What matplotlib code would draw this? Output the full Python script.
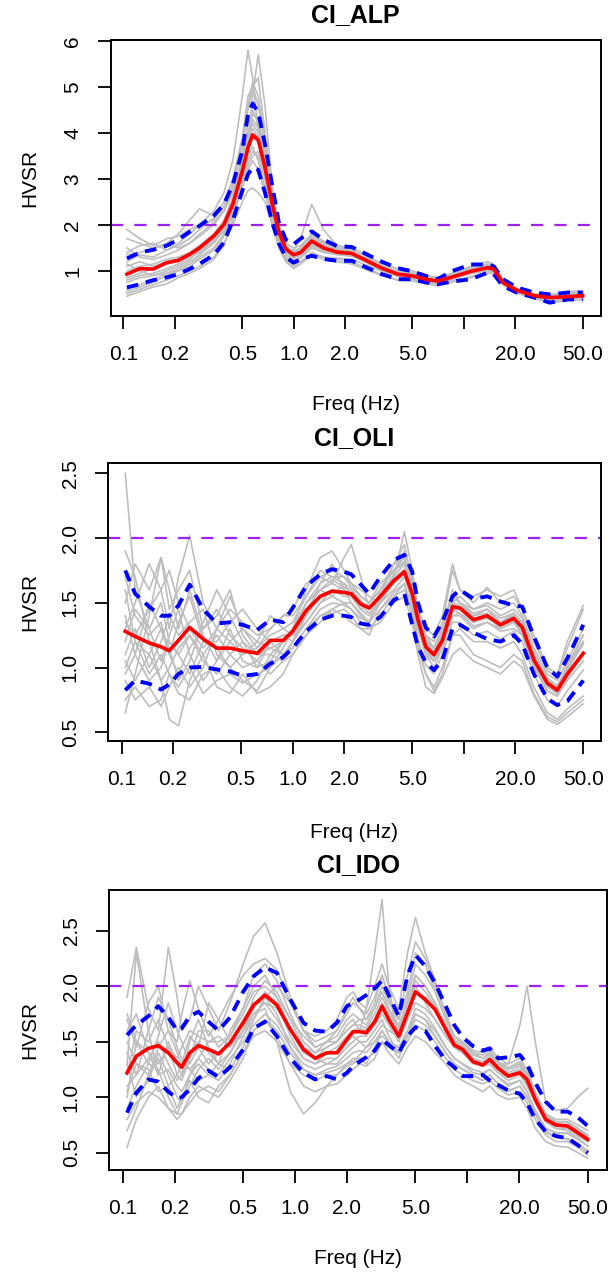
import numpy as np
import matplotlib
matplotlib.use("Agg")
import matplotlib.pyplot as plt

plt.rcParams['font.family'] = ['Liberation Sans', 'DejaVu Sans']

# ---------------- CI_ALP ----------------
f_alp = [0.105, 0.125, 0.15, 0.18, 0.21, 0.245, 0.28, 0.34, 0.39, 0.44,
         0.5, 0.54, 0.575, 0.62, 0.68, 0.75, 0.82, 0.9, 1.0, 1.1,
         1.28, 1.5, 1.8, 2.2, 2.7, 3.3, 4.1, 5.0, 6.0, 7.0,
         8.6, 11, 13.8, 15, 17, 20.5, 26, 32, 41, 50]
mean_alp = [0.93, 1.05, 1.04, 1.18, 1.23, 1.36, 1.5, 1.76, 2.01, 2.45,
            3.17, 3.68, 3.96, 3.85, 3.25, 2.45, 1.85, 1.48, 1.35, 1.40,
            1.65, 1.5, 1.41, 1.38, 1.22, 1.06, 0.93, 0.89, 0.82, 0.78,
            0.87, 0.99, 1.07, 1.04, 0.75, 0.58, 0.46, 0.42, 0.44, 0.46]
up_alp = [1.27, 1.40, 1.46, 1.55, 1.68, 1.85, 1.98, 2.2, 2.45, 2.88,
          3.61, 4.4, 4.64, 4.45, 3.75, 2.85, 2.05, 1.68, 1.58, 1.7,
          1.86, 1.68, 1.54, 1.52, 1.36, 1.20, 1.06, 0.99, 0.89, 0.82,
          1.0, 1.14, 1.14, 1.10, 0.82, 0.64, 0.53, 0.49, 0.53, 0.53]
lo_alp = [0.64, 0.71, 0.80, 0.86, 0.93, 1.04, 1.15, 1.35, 1.62, 2.1,
          2.74, 3.1, 3.25, 3.2, 2.7, 2.05, 1.6, 1.3, 1.18, 1.25,
          1.33, 1.26, 1.22, 1.22, 1.07, 0.93, 0.82, 0.82, 0.75, 0.71,
          0.77, 0.82, 0.96, 0.93, 0.67, 0.53, 0.42, 0.31, 0.38, 0.38]
gray_alp = [
    [1.2, 1.35, 1.3, 1.45, 1.6, 1.8, 2.0, 2.3, 2.7, 3.4, 4.8, 5.8, 5.2, 4.0, 3.0, 2.2, 1.7, 1.45, 1.4, 1.5,
     1.75, 1.6, 1.5, 1.45, 1.3, 1.1, 0.98, 0.95, 0.86, 0.8, 0.9, 1.0, 1.1, 1.05, 0.78, 0.6, 0.48, 0.44, 0.5, 0.5],
    [0.8, 0.9, 0.95, 1.05, 1.15, 1.3, 1.45, 1.7, 2.0, 2.4, 3.0, 3.8, 4.8, 5.7, 4.6, 2.8, 1.9, 1.5, 1.35, 1.4,
     1.6, 1.45, 1.38, 1.35, 1.2, 1.02, 0.9, 0.85, 0.8, 0.76, 0.85, 0.97, 1.1, 1.1, 0.8, 0.6, 0.46, 0.4, 0.45, 0.48],
    [0.5, 0.6, 0.7, 0.8, 0.9, 1.0, 1.1, 1.3, 1.6, 2.0, 2.5, 2.75, 2.8, 2.7, 2.5, 2.0, 1.55, 1.25, 1.1, 1.2,
     1.35, 1.3, 1.25, 1.2, 1.05, 0.92, 0.8, 0.82, 0.74, 0.7, 0.8, 0.85, 0.95, 0.95, 0.7, 0.52, 0.4, 0.3, 0.36, 0.38],
    [1.7, 1.6, 1.5, 1.6, 1.8, 2.1, 2.35, 2.2, 2.3, 2.7, 3.3, 3.8, 4.1, 3.9, 3.2, 2.3, 1.7, 1.4, 1.3, 1.35,
     1.6, 1.45, 1.4, 1.4, 1.25, 1.08, 0.95, 0.92, 0.84, 0.8, 0.88, 1.0, 1.06, 1.02, 0.74, 0.56, 0.44, 0.4, 0.42, 0.44],
    [1.0, 1.1, 1.15, 1.25, 1.3, 1.4, 1.55, 1.8, 2.1, 2.6, 3.5, 4.2, 4.5, 4.2, 3.5, 2.6, 1.9, 1.5, 1.45, 1.7,
     2.45, 1.9, 1.55, 1.45, 1.3, 1.12, 0.98, 0.92, 0.86, 0.82, 0.9, 1.02, 1.15, 1.1, 0.8, 0.62, 0.5, 0.46, 0.55, 0.56],
    [0.45, 0.55, 0.65, 0.72, 0.85, 0.95, 1.05, 1.25, 1.55, 2.1, 2.9, 3.4, 3.6, 3.5, 3.0, 2.3, 1.7, 1.3, 1.15, 1.2,
     1.4, 1.3, 1.28, 1.25, 1.12, 1.0, 0.88, 0.85, 0.78, 0.72, 0.82, 0.94, 1.0, 0.98, 0.72, 0.55, 0.42, 0.35, 0.4, 0.42],
    [1.9, 1.7, 1.55, 1.7, 1.75, 1.9, 2.0, 2.1, 2.4, 2.9, 3.8, 4.6, 5.1, 4.8, 3.9, 2.8, 2.0, 1.6, 1.5, 1.55,
     1.8, 1.65, 1.55, 1.5, 1.35, 1.15, 1.05, 1.0, 0.9, 0.86, 0.95, 1.1, 1.2, 1.15, 0.82, 0.62, 0.5, 0.48, 0.55, 0.55],
    [1.1, 1.2, 1.1, 1.2, 1.25, 1.35, 1.5, 1.75, 2.0, 2.4, 3.1, 3.6, 3.9, 3.8, 3.3, 2.5, 1.8, 1.45, 1.3, 1.35,
     1.55, 1.48, 1.42, 1.35, 1.2, 1.05, 0.92, 0.88, 0.82, 0.78, 0.86, 0.98, 1.05, 1.0, 0.74, 0.58, 0.45, 0.42, 0.44, 0.45],
    [0.75, 0.85, 0.9, 0.95, 1.05, 1.2, 1.35, 1.6, 1.9, 2.3, 3.0, 3.5, 3.7, 3.4, 2.8, 2.1, 1.6, 1.3, 1.2, 1.28,
     1.5, 1.42, 1.35, 1.32, 1.18, 1.0, 0.9, 0.88, 0.8, 0.75, 0.84, 0.95, 1.03, 1.0, 0.74, 0.56, 0.44, 0.38, 0.42, 0.44],
    [1.35, 1.4, 1.5, 1.55, 1.5, 1.6, 1.75, 2.0, 2.3, 2.8, 3.7, 4.5, 5.0, 5.2, 4.0, 2.6, 1.85, 1.5, 1.35, 1.42,
     1.7, 1.58, 1.48, 1.42, 1.28, 1.1, 0.97, 0.94, 0.85, 0.8, 0.92, 1.05, 1.12, 1.08, 0.78, 0.6, 0.48, 0.44, 0.48, 0.5],
    [1.5, 1.3, 1.25, 1.35, 1.45, 1.6, 1.8, 2.05, 2.3, 2.7, 3.4, 4.0, 4.4, 4.3, 3.6, 2.6, 1.85, 1.5, 1.4, 1.45,
     1.7, 1.55, 1.46, 1.42, 1.28, 1.1, 0.98, 0.95, 0.86, 0.82, 0.92, 1.05, 1.15, 1.12, 0.8, 0.6, 0.47, 0.45, 0.5, 0.5],
    [0.6, 0.7, 0.8, 0.95, 1.0, 1.15, 1.3, 1.5, 1.8, 2.2, 2.8, 3.2, 3.4, 3.2, 2.7, 2.0, 1.5, 1.2, 1.05, 1.15,
     1.35, 1.25, 1.2, 1.15, 1.02, 0.9, 0.8, 0.78, 0.72, 0.68, 0.76, 0.88, 0.95, 0.95, 0.7, 0.52, 0.4, 0.33, 0.36, 0.38],
    [1.4, 1.55, 1.6, 1.45, 1.55, 1.7, 1.9, 2.15, 2.5, 3.0, 3.9, 4.8, 5.0, 4.6, 3.7, 2.7, 1.95, 1.55, 1.42, 1.5,
     1.8, 1.62, 1.5, 1.45, 1.3, 1.12, 1.0, 0.96, 0.88, 0.83, 0.93, 1.06, 1.14, 1.1, 0.8, 0.62, 0.5, 0.46, 0.52, 0.52],
    [0.85, 0.95, 1.05, 1.15, 1.2, 1.3, 1.4, 1.65, 1.95, 2.5, 3.3, 3.9, 4.2, 4.0, 3.3, 2.4, 1.75, 1.4, 1.3, 1.35,
     1.6, 1.5, 1.42, 1.38, 1.22, 1.06, 0.94, 0.9, 0.82, 0.78, 0.87, 0.99, 1.08, 1.05, 0.76, 0.58, 0.46, 0.42, 0.45, 0.47],
    [1.15, 1.0, 0.9, 1.0, 1.1, 1.25, 1.45, 1.65, 1.85, 2.2, 2.9, 3.3, 3.5, 3.6, 3.1, 2.3, 1.65, 1.35, 1.25, 1.3,
     1.5, 1.4, 1.36, 1.33, 1.18, 1.02, 0.9, 0.86, 0.8, 0.76, 0.84, 0.96, 1.02, 0.99, 0.72, 0.56, 0.43, 0.38, 0.41, 0.43],
    [0.55, 0.65, 0.75, 0.9, 1.0, 1.1, 1.25, 1.45, 1.75, 2.3, 3.2, 3.9, 4.3, 4.1, 3.4, 2.5, 1.8, 1.42, 1.3, 1.35,
     1.55, 1.45, 1.4, 1.36, 1.2, 1.04, 0.92, 0.88, 0.8, 0.76, 0.86, 0.98, 1.06, 1.02, 0.75, 0.57, 0.45, 0.41, 0.44, 0.46],
]

# ---------------- CI_OLI ----------------
f_oli = [0.105, 0.12, 0.145, 0.17, 0.19, 0.215, 0.25, 0.3, 0.36, 0.43,
         0.51, 0.62, 0.74, 0.88, 1.0, 1.2, 1.45, 1.7, 2.0, 2.2,
         2.5, 2.8, 3.25, 3.9, 4.5, 5.0, 5.4, 6.0, 6.7, 7.5,
         8.6, 9.5, 11.4, 13.7, 16.4, 19.6, 22, 25.7, 30.8, 35.2,
         40.3, 50]
mean_oli = [1.28, 1.24, 1.19, 1.16, 1.13, 1.21, 1.31, 1.22, 1.15, 1.15,
            1.13, 1.11, 1.21, 1.21, 1.28, 1.44, 1.55, 1.59, 1.58, 1.57,
            1.49, 1.46, 1.55, 1.67, 1.74, 1.57, 1.37, 1.16, 1.10, 1.21,
            1.47, 1.46, 1.37, 1.40, 1.33, 1.38, 1.31, 1.06, 0.88, 0.825,
            0.95, 1.11]
up_oli = [1.75, 1.57, 1.47, 1.40, 1.40, 1.48, 1.64, 1.45, 1.34, 1.35,
          1.33, 1.29, 1.37, 1.35, 1.46, 1.63, 1.72, 1.76, 1.74, 1.72,
          1.64, 1.57, 1.70, 1.83, 1.87, 1.74, 1.50, 1.31, 1.24, 1.35,
          1.55, 1.60, 1.53, 1.55, 1.51, 1.48, 1.47, 1.24, 1.0, 0.93,
          1.07, 1.33]
lo_oli = [0.825, 0.90, 0.875, 0.83, 0.87, 0.95, 1.0, 1.005, 0.985, 0.97,
          0.935, 0.95, 1.03, 1.08, 1.15, 1.28, 1.37, 1.40, 1.40, 1.39,
          1.34, 1.33, 1.39, 1.52, 1.57, 1.33, 1.16, 1.04, 0.98, 1.06,
          1.30, 1.33, 1.27, 1.22, 1.20, 1.25, 1.18, 0.95, 0.76, 0.71,
          0.74, 0.90]
gray_oli = [
    [2.5, 1.6, 1.3, 1.5, 1.2, 1.1, 1.25, 1.05, 0.95, 1.1, 1.2, 1.0, 1.05, 1.2, 1.3, 1.5, 1.6, 1.55, 1.65, 1.55, 1.45,
     1.4, 1.5, 1.65, 1.75, 1.5, 1.3, 1.1, 1.0, 1.15, 1.4, 1.4, 1.3, 1.35, 1.3, 1.35, 1.25, 1.0, 0.82, 0.78, 0.9, 1.05],
    [0.65, 0.95, 1.4, 1.85, 1.6, 1.3, 1.6, 1.25, 1.05, 1.3, 1.05, 1.0, 1.2, 1.1, 1.2, 1.4, 1.65, 1.8, 1.6, 1.5, 1.4,
     1.35, 1.6, 1.8, 1.95, 1.65, 1.4, 1.2, 1.15, 1.3, 1.6, 1.5, 1.4, 1.45, 1.35, 1.42, 1.35, 1.1, 0.9, 0.85, 1.0, 1.2],
    [1.9, 1.7, 1.2, 0.9, 0.6, 0.55, 0.9, 1.1, 0.85, 0.8, 0.95, 0.8, 0.85, 0.95, 1.1, 1.25, 1.35, 1.45, 1.5, 1.45, 1.35,
     1.3, 1.4, 1.55, 1.6, 1.45, 1.2, 0.95, 0.82, 0.95, 1.25, 1.3, 1.2, 1.2, 1.15, 1.2, 1.1, 0.85, 0.65, 0.6, 0.68, 0.78],
    [1.3, 1.5, 1.8, 1.6, 1.3, 1.7, 2.02, 1.5, 1.3, 1.2, 1.3, 1.15, 1.25, 1.3, 1.35, 1.55, 1.75, 1.7, 1.7, 1.65, 1.55,
     1.5, 1.6, 1.75, 1.8, 1.6, 1.4, 1.2, 1.12, 1.25, 1.55, 1.5, 1.45, 1.48, 1.4, 1.45, 1.38, 1.12, 0.92, 0.86, 1.0, 1.25],
    [0.9, 0.75, 0.85, 0.7, 0.85, 1.0, 0.85, 1.0, 1.3, 1.55, 1.3, 1.2, 1.4, 1.3, 1.25, 1.35, 1.5, 1.6, 1.55, 1.55, 1.45,
     1.5, 1.65, 1.75, 1.85, 1.55, 1.35, 1.15, 1.05, 1.2, 1.45, 1.45, 1.35, 1.4, 1.3, 1.35, 1.28, 1.05, 0.85, 0.8, 0.95, 1.1],
    [1.1, 1.3, 1.0, 1.2, 1.4, 1.25, 1.35, 1.45, 1.1, 1.0, 0.9, 0.82, 1.0, 1.15, 1.3, 1.6, 1.85, 1.9, 1.75, 1.65, 1.6,
     1.55, 1.5, 1.7, 2.05, 1.75, 1.45, 1.25, 1.2, 1.35, 1.75, 1.6, 1.55, 1.6, 1.55, 1.6, 1.45, 1.2, 0.98, 0.92, 1.15, 1.45],
    [1.6, 1.2, 0.95, 1.1, 0.95, 0.8, 0.75, 0.95, 1.0, 0.85, 0.78, 0.9, 1.1, 1.05, 1.1, 1.25, 1.4, 1.42, 1.45, 1.4, 1.3,
     1.25, 1.45, 1.55, 1.65, 1.4, 1.15, 0.95, 0.85, 1.0, 1.25, 1.25, 1.1, 1.05, 1.0, 1.1, 1.05, 0.8, 0.62, 0.58, 0.65, 0.75],
    [1.4, 1.1, 1.5, 1.3, 1.1, 1.35, 1.55, 1.2, 1.2, 1.35, 1.45, 1.3, 1.2, 1.25, 1.25, 1.5, 1.6, 1.65, 1.85, 1.95, 1.7,
     1.45, 1.55, 1.8, 1.85, 1.65, 1.45, 1.25, 1.15, 1.3, 1.5, 1.55, 1.45, 1.5, 1.45, 1.5, 1.4, 1.15, 0.95, 0.9, 1.05, 1.3],
    [1.0, 1.2, 1.1, 0.9, 1.0, 1.15, 1.25, 1.1, 1.25, 1.1, 1.0, 1.05, 1.2, 1.25, 1.2, 1.35, 1.5, 1.55, 1.5, 1.5, 1.42,
     1.35, 1.5, 1.6, 1.7, 1.55, 1.3, 1.1, 1.05, 1.15, 1.4, 1.42, 1.32, 1.35, 1.28, 1.3, 1.25, 1.02, 0.82, 0.78, 0.92, 1.1],
    [1.2, 1.45, 1.3, 1.05, 1.25, 1.45, 1.1, 0.9, 1.05, 1.2, 1.1, 1.15, 1.3, 1.4, 1.45, 1.65, 1.7, 1.65, 1.6, 1.55, 1.5,
     1.45, 1.55, 1.7, 1.8, 1.6, 1.4, 1.2, 1.15, 1.3, 1.5, 1.45, 1.4, 1.45, 1.35, 1.4, 1.32, 1.08, 0.88, 0.82, 1.0, 1.2],
    [0.75, 0.85, 0.7, 0.75, 0.95, 0.85, 1.0, 0.8, 0.9, 0.95, 0.88, 0.95, 1.0, 1.1, 1.15, 1.3, 1.4, 1.45, 1.4, 1.35, 1.3,
     1.3, 1.35, 1.5, 1.55, 1.35, 1.1, 0.85, 0.8, 0.92, 1.1, 1.15, 1.05, 1.0, 0.95, 1.05, 1.0, 0.78, 0.6, 0.56, 0.62, 0.72],
    [1.5, 1.8, 1.6, 1.85, 1.45, 1.6, 1.75, 1.3, 1.4, 1.6, 1.25, 1.1, 1.1, 1.2, 1.3, 1.5, 1.65, 1.7, 1.65, 1.6, 1.52,
     1.45, 1.55, 1.72, 1.9, 1.7, 1.45, 1.3, 1.25, 1.4, 1.8, 1.6, 1.5, 1.62, 1.5, 1.55, 1.45, 1.25, 1.0, 0.95, 1.2, 1.48],
    [1.35, 1.25, 1.45, 1.6, 1.75, 1.5, 1.3, 1.15, 1.3, 1.45, 1.35, 1.25, 1.3, 1.4, 1.4, 1.55, 1.7, 1.75, 1.7, 1.62, 1.55,
     1.5, 1.6, 1.75, 1.82, 1.62, 1.42, 1.22, 1.15, 1.28, 1.55, 1.5, 1.42, 1.45, 1.38, 1.42, 1.35, 1.12, 0.9, 0.85, 1.02, 1.25],
    [0.95, 1.1, 0.9, 1.0, 1.2, 1.1, 0.95, 1.2, 1.15, 1.0, 1.1, 1.2, 1.15, 1.2, 1.25, 1.4, 1.55, 1.6, 1.58, 1.55, 1.48,
     1.42, 1.52, 1.65, 1.72, 1.5, 1.3, 1.12, 1.05, 1.18, 1.45, 1.42, 1.35, 1.38, 1.32, 1.36, 1.28, 1.05, 0.86, 0.8, 0.95, 1.12],
    [1.7, 1.4, 1.25, 1.35, 1.1, 0.95, 1.15, 1.3, 1.45, 1.25, 1.15, 1.05, 0.95, 1.05, 1.2, 1.45, 1.6, 1.68, 1.62, 1.58, 1.5,
     1.45, 1.55, 1.68, 1.76, 1.55, 1.35, 1.15, 1.08, 1.22, 1.5, 1.48, 1.4, 1.42, 1.35, 1.4, 1.32, 1.08, 0.88, 0.84, 0.98, 1.18],
    [1.05, 0.9, 1.1, 1.3, 1.15, 0.9, 1.05, 1.35, 1.6, 1.4, 1.2, 1.1, 1.15, 1.1, 1.15, 1.3, 1.45, 1.5, 1.48, 1.45, 1.38,
     1.35, 1.45, 1.58, 1.65, 1.45, 1.22, 1.02, 0.95, 1.1, 1.35, 1.35, 1.25, 1.28, 1.22, 1.28, 1.2, 0.95, 0.75, 0.7, 0.82, 0.98],
]

# ---------------- CI_IDO ----------------
f_ido = [0.106, 0.12, 0.141, 0.161, 0.184, 0.207, 0.22, 0.245, 0.275, 0.315,
         0.36, 0.42, 0.5, 0.575, 0.67, 0.785, 0.94, 1.12, 1.31, 1.53,
         1.75, 2.0, 2.17, 2.37, 2.59, 2.9, 3.2, 3.5, 4.0, 4.5,
         5.0, 5.7, 6.5, 7.5, 8.4, 9.4, 10.8, 12.3, 13.5, 15.1,
         17.3, 20.2, 22.2, 24.8, 28.5, 32.6, 38.2, 43.7, 50]
mean_ido = [1.22, 1.37, 1.44, 1.465, 1.40, 1.31, 1.27, 1.40, 1.465, 1.43,
            1.39, 1.49, 1.67, 1.83, 1.92, 1.83, 1.61, 1.43, 1.35, 1.40,
            1.40, 1.52, 1.59, 1.59, 1.58, 1.68, 1.82, 1.70, 1.55, 1.76,
            1.95, 1.88, 1.79, 1.61, 1.47, 1.43, 1.32, 1.29, 1.34, 1.26,
            1.19, 1.22, 1.16, 0.98, 0.80, 0.75, 0.74, 0.68, 0.62]
up_ido = [1.56, 1.65, 1.73, 1.82, 1.72, 1.60, 1.62, 1.73, 1.77, 1.68,
          1.60, 1.72, 1.95, 2.09, 2.17, 2.12, 1.88, 1.67, 1.60, 1.59,
          1.67, 1.82, 1.85, 1.88, 1.92, 1.98, 2.05, 1.92, 1.73, 2.10,
          2.28, 2.18, 2.03, 1.82, 1.65, 1.54, 1.46, 1.42, 1.44, 1.35,
          1.36, 1.38, 1.30, 1.13, 0.96, 0.87, 0.87, 0.82, 0.74]
lo_ido = [0.86, 1.04, 1.16, 1.14, 1.05, 0.99, 1.0, 1.07, 1.17, 1.24,
          1.18, 1.27, 1.43, 1.62, 1.68, 1.55, 1.35, 1.22, 1.16, 1.19,
          1.16, 1.22, 1.28, 1.32, 1.36, 1.42, 1.52, 1.47, 1.40, 1.55,
          1.63, 1.60, 1.46, 1.33, 1.27, 1.19, 1.19, 1.20, 1.15, 1.11,
          1.06, 1.03, 0.95, 0.80, 0.69, 0.65, 0.63, 0.57, 0.50]
gray_ido = [
    [1.3, 2.3, 1.6, 1.2, 1.5, 1.3, 1.2, 1.5, 1.7, 1.45, 1.3, 1.6, 1.8, 2.0, 2.1, 1.9, 1.6, 1.4, 1.35, 1.45, 1.5, 1.65,
     1.7, 1.6, 1.8, 2.3, 2.78, 2.0, 1.5, 1.8, 2.0, 1.85, 1.7, 1.55, 1.45, 1.4, 1.3, 1.28, 1.3, 1.22, 1.15, 1.2, 1.1,
     0.95, 0.78, 0.72, 0.7, 0.65, 0.6],
    [1.1, 1.2, 1.35, 1.5, 1.3, 1.15, 1.2, 1.35, 1.5, 1.4, 1.3, 1.4, 1.6, 1.8, 1.95, 1.85, 1.55, 1.35, 1.3, 1.35, 1.35,
     1.45, 1.5, 1.55, 1.55, 1.65, 1.75, 1.65, 1.5, 1.7, 1.85, 1.8, 1.7, 1.55, 1.45, 1.42, 1.35, 1.3, 1.35, 1.3, 1.3,
     1.65, 2.0, 1.5, 0.95, 0.88, 0.9, 1.0, 1.08],
    [0.55, 0.8, 1.0, 1.1, 0.9, 0.8, 0.85, 1.0, 1.1, 1.05, 1.0, 1.15, 1.35, 1.6, 1.7, 1.55, 1.3, 1.1, 1.05, 1.1, 1.12,
     1.2, 1.25, 1.3, 1.28, 1.35, 1.5, 1.4, 1.3, 1.45, 1.55, 1.5, 1.4, 1.3, 1.2, 1.15, 1.1, 1.05, 1.1, 1.02, 0.98, 1.0,
     0.9, 0.72, 0.6, 0.56, 0.55, 0.5, 0.45],
    [1.9, 2.35, 1.8, 1.6, 2.35, 1.9, 1.6, 1.7, 2.0, 1.8, 1.6, 1.85, 2.2, 2.45, 2.57, 2.3, 1.9, 1.6, 1.5, 1.55, 1.6,
     1.75, 1.85, 1.8, 1.75, 1.9, 2.1, 1.9, 1.7, 2.1, 2.4, 2.25, 2.0, 1.75, 1.55, 1.5, 1.4, 1.38, 1.42, 1.32, 1.25,
     1.3, 1.2, 1.0, 0.82, 0.76, 0.75, 0.7, 0.65],
    [1.5, 1.3, 1.2, 1.45, 1.6, 1.4, 1.3, 1.55, 1.45, 1.3, 1.4, 1.5, 1.7, 1.85, 1.85, 1.7, 1.5, 1.35, 1.3, 1.4, 1.45,
     1.55, 1.6, 1.62, 1.6, 1.7, 1.85, 1.75, 1.6, 1.8, 1.95, 1.9, 1.8, 1.62, 1.5, 1.45, 1.35, 1.3, 1.35, 1.28, 1.2,
     1.25, 1.15, 0.98, 0.8, 0.75, 0.75, 0.7, 0.63],
    [0.9, 1.1, 1.3, 1.25, 1.0, 0.85, 0.95, 1.2, 1.3, 1.2, 1.15, 1.3, 1.55, 1.75, 1.8, 1.5, 1.05, 0.85, 0.95, 1.1, 1.2,
     1.3, 1.35, 1.35, 1.3, 1.45, 1.6, 1.5, 1.35, 1.55, 1.75, 1.7, 1.55, 1.4, 1.3, 1.25, 1.2, 1.15, 1.2, 1.12, 1.05,
     1.1, 1.0, 0.85, 0.7, 0.64, 0.62, 0.57, 0.5],
    [1.7, 1.45, 1.85, 2.0, 1.6, 1.5, 1.75, 2.05, 1.8, 1.55, 1.7, 1.9, 2.1, 2.2, 2.25, 2.15, 1.85, 1.6, 1.55, 1.6, 1.7,
     1.9, 1.95, 1.85, 1.8, 2.0, 2.2, 2.0, 1.8, 2.3, 2.62, 2.3, 2.05, 1.75, 1.55, 1.5, 1.42, 1.4, 1.45, 1.35, 1.3,
     1.35, 1.25, 1.05, 0.85, 0.8, 0.8, 0.75, 0.7],
    [1.0, 1.5, 1.4, 1.2, 1.25, 1.1, 1.05, 1.2, 1.35, 1.25, 1.2, 1.35, 1.5, 1.65, 1.75, 1.65, 1.45, 1.3, 1.25, 1.3, 1.3,
     1.4, 1.45, 1.5, 1.5, 1.6, 1.7, 1.55, 1.4, 1.6, 1.75, 1.7, 1.6, 1.45, 1.35, 1.3, 1.22, 1.2, 1.25, 1.18, 1.1,
     1.15, 1.05, 0.88, 0.72, 0.68, 0.67, 0.62, 0.56],
    [1.3, 1.0, 1.15, 1.4, 1.2, 1.0, 0.95, 1.1, 1.25, 1.35, 1.25, 1.4, 1.6, 1.9, 2.05, 1.95, 1.7, 1.45, 1.35, 1.3, 1.35,
     1.5, 1.55, 1.5, 1.45, 1.55, 1.65, 1.6, 1.55, 1.75, 2.1, 2.0, 1.85, 1.6, 1.45, 1.4, 1.32, 1.28, 1.3, 1.22, 1.18,
     1.22, 1.12, 0.95, 0.78, 0.72, 0.72, 0.67, 0.6],
    [1.2, 1.6, 1.5, 1.7, 1.45, 1.35, 1.45, 1.6, 1.55, 1.5, 1.5, 1.55, 1.75, 1.95, 2.0, 1.9, 1.7, 1.55, 1.45, 1.5, 1.5,
     1.6, 1.65, 1.7, 1.65, 1.8, 1.95, 1.8, 1.65, 1.85, 2.1, 2.0, 1.85, 1.65, 1.5, 1.45, 1.35, 1.32, 1.38, 1.3, 1.22,
     1.28, 1.18, 1.0, 0.8, 0.75, 0.74, 0.7, 0.64],
    [0.8, 0.95, 1.05, 1.0, 0.9, 0.85, 0.85, 0.95, 1.05, 1.1, 1.05, 1.2, 1.4, 1.55, 1.6, 1.5, 1.3, 1.2, 1.15, 1.2, 1.2,
     1.28, 1.3, 1.35, 1.35, 1.4, 1.5, 1.45, 1.4, 1.5, 1.65, 1.6, 1.5, 1.35, 1.25, 1.2, 1.15, 1.12, 1.15, 1.08, 1.02,
     1.05, 0.95, 0.8, 0.66, 0.6, 0.6, 0.55, 0.48],
    [1.6, 1.75, 1.4, 1.3, 1.45, 1.2, 1.15, 1.35, 1.6, 1.6, 1.45, 1.55, 1.8, 2.1, 2.2, 2.05, 1.75, 1.5, 1.4, 1.5, 1.55,
     1.7, 1.75, 1.7, 1.7, 1.85, 2.1, 1.9, 1.6, 1.9, 2.2, 2.1, 1.95, 1.7, 1.55, 1.48, 1.4, 1.35, 1.4, 1.3, 1.25, 1.3,
     1.2, 1.02, 0.82, 0.78, 0.78, 0.72, 0.66],
    [1.4, 1.2, 1.6, 1.9, 1.7, 1.45, 1.35, 1.25, 1.35, 1.5, 1.55, 1.45, 1.6, 1.75, 1.85, 1.8, 1.6, 1.45, 1.4, 1.45, 1.5,
     1.6, 1.65, 1.65, 1.62, 1.75, 1.9, 1.78, 1.62, 1.85, 2.05, 1.95, 1.82, 1.6, 1.48, 1.42, 1.35, 1.3, 1.35, 1.27, 1.2,
     1.25, 1.15, 0.98, 0.8, 0.75, 0.75, 0.7, 0.62],
    [1.05, 1.3, 1.25, 1.05, 1.1, 1.2, 1.3, 1.25, 1.15, 1.2, 1.3, 1.25, 1.45, 1.7, 1.9, 1.75, 1.45, 1.25, 1.2, 1.25, 1.28,
     1.35, 1.4, 1.42, 1.4, 1.5, 1.6, 1.5, 1.45, 1.6, 1.8, 1.75, 1.62, 1.45, 1.35, 1.3, 1.25, 1.22, 1.25, 1.18, 1.12,
     1.15, 1.05, 0.88, 0.72, 0.68, 0.68, 0.63, 0.56],
    [1.75, 1.5, 1.3, 1.55, 1.85, 1.6, 1.5, 1.3, 1.45, 1.85, 1.7, 1.5, 1.55, 1.7, 1.9, 2.0, 1.85, 1.6, 1.45, 1.5, 1.6,
     1.8, 1.9, 1.8, 1.7, 1.8, 2.0, 1.85, 1.7, 1.95, 2.3, 2.2, 1.95, 1.7, 1.52, 1.46, 1.38, 1.35, 1.4, 1.32, 1.27,
     1.32, 1.22, 1.02, 0.84, 0.78, 0.77, 0.72, 0.66],
    [0.7, 0.9, 1.2, 1.35, 1.1, 0.9, 1.0, 1.15, 1.0, 0.95, 1.1, 1.2, 1.4, 1.6, 1.7, 1.6, 1.4, 1.25, 1.2, 1.22, 1.25,
     1.3, 1.32, 1.38, 1.45, 1.5, 1.55, 1.5, 1.45, 1.55, 1.7, 1.65, 1.55, 1.4, 1.3, 1.25, 1.2, 1.15, 1.2, 1.12, 1.06,
     1.1, 1.0, 0.84, 0.68, 0.64, 0.63, 0.58, 0.52],
]

x_ticks = [0.1, 0.2, 0.5, 1, 2, 5, 10, 20, 50]
x_labels = ["0.1", "0.2", "0.5", "1.0", "2.0", "5.0", "", "20.0", "50.0"]

W, H = 608, 1274
fig = plt.figure(figsize=(W / 100, H / 100), dpi=100)

panels = [
    # name, freq, mean, up, lo, gray, box(l, r, t, b) px, xlim, ylim, yticks, ylabels, title_y, xlab_y
    ("CI_ALP", f_alp, mean_alp, up_alp, lo_alp, gray_alp, (110.7, 600.7, 40, 316),
     (0.0843, 63.8), (0.02, 6.02), [1, 2, 3, 4, 5, 6], ["1", "2", "3", "4", "5", "6"], 15, 405),
    ("CI_OLI", f_oli, mean_oli, up_oli, lo_oli, gray_oli, (108.3, 600.7, 462.7, 740.7),
     (0.0836, 63.2), (0.435, 2.582), [0.5, 1.0, 1.5, 2.0, 2.5], ["0.5", "1.0", "1.5", "2.0", "2.5"], 438, 832),
    ("CI_IDO", f_ido, mean_ido, up_ido, lo_ido, gray_ido, (109.3, 606.7, 890, 1170),
     (0.0836, 64.4), (0.344, 2.867), [0.5, 1.0, 1.5, 2.0, 2.5], ["0.5", "1.0", "1.5", "2.0", "2.5"], 865, 1258),
]

for name, f, mean, up, lo, gray, box, xlim, ylim, yt, ylab, ty, xly in panels:
    l, r, t, b = box
    ax = fig.add_axes([l / W, 1 - b / H, (r - l) / W, (b - t) / H])
    for g in gray:
        ax.plot(f, g, color="#BEBEBE", lw=1.2, zorder=1)
    ax.axhline(2, color="#A020F0", lw=1.6, ls=(0, (5.5, 5.0)), zorder=2)
    ax.plot(f, up, color="#0000FF", lw=2.8, ls=(0, (3.0, 2.0)), zorder=3)
    ax.plot(f, lo, color="#0000FF", lw=2.8, ls=(0, (3.0, 2.0)), zorder=3)
    ax.plot(f, mean, color="#FF0000", lw=2.6, zorder=4)

    ax.set_xscale("log")
    ax.set_xlim(*xlim)
    ax.set_ylim(*ylim)
    ax.set_xticks(x_ticks)
    ax.set_xticklabels(x_labels)
    ax.minorticks_off()
    ax.set_yticks(yt)
    ax.set_yticklabels(ylab, rotation=90, va="center")
    ax.tick_params(axis="x", length=9, width=1.3, pad=12, labelsize=15, direction="out")
    ax.tick_params(axis="y", length=9.5, width=1.3, pad=11, labelsize=15, direction="out")
    for s in ax.spines.values():
        s.set_linewidth(1.4)
        s.set_color("black")

    cx = (l + r) / 2
    fig.text(cx / W, 1 - ty / H, name, ha="center", va="center",
             fontsize=18, fontweight="bold")
    fig.text(cx / W, 1 - xly / H, "Freq (Hz)", ha="center", va="center", fontsize=15)
    fig.text(30 / W, 1 - ((t + b) / 2) / H, "HVSR", ha="center", va="center",
             rotation=90, fontsize=15)

fig.savefig("out.png", dpi=100)
